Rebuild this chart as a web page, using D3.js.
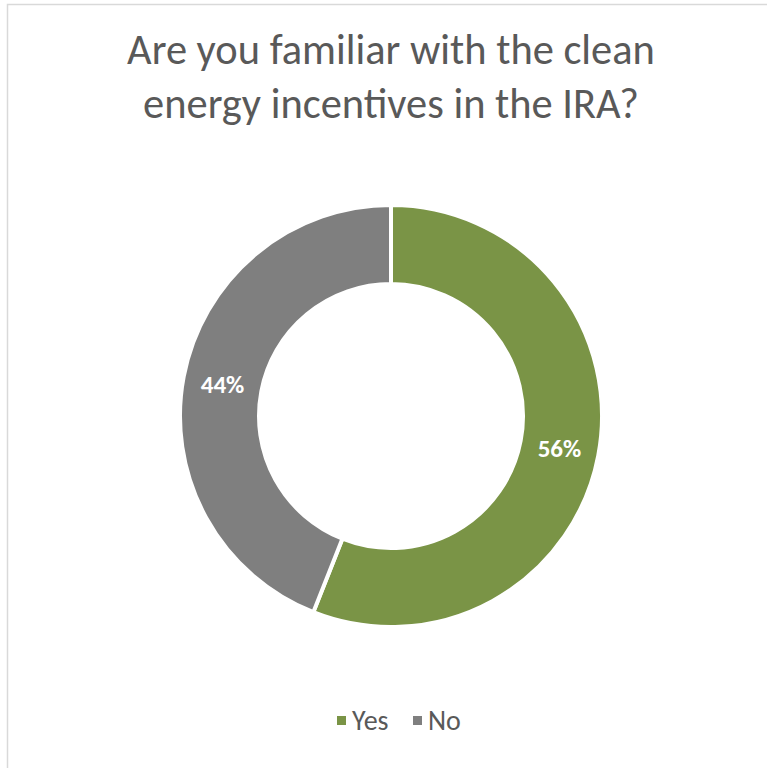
<!DOCTYPE html>
<html>
<head>
<meta charset="utf-8">
<script src="https://cdn.jsdelivr.net/npm/d3@7"></script>
<style>
  html, body { margin: 0; padding: 0; background: #fff; }
  svg { display: block; }
</style>
</head>
<body>
<script>
const titleLines = ["Are you familiar with the clean", "energy incentives in the IRA?"];
const categories = ["Yes", "No"];
const values = [56, 44];
const colors = ["#7a9446", "#7f7f7f"];

const W = 767, H = 768;
const svg = d3.select("body").append("svg").attr("width", W).attr("height", H);
const font = "Carlito, 'Open Sans', 'Noto Sans', sans-serif";

svg.append("rect").attr("x", 7.5).attr("y", 4.5).attr("width", W + 10).attr("height", H + 10)
  .attr("fill", "#fff").attr("stroke", "#d9d9d9").attr("stroke-width", 1.5);

// Title
const title = svg.append("text").attr("text-anchor", "middle")
  .attr("font-family", font).attr("fill", "#595959");
titleLines.forEach((t, i) => {
  title.append("tspan").attr("x", 391).attr("y", 64 + i * 54).text(t);
});
title.attr("font-size", 34);
const w0 = title.select("tspan").node().getComputedTextLength();
title.attr("font-size", 34 * 528 / w0);

// Donut
const cx = 391, cy = 416, R = 211, r = 132;
const pie = d3.pie().sort(null).value(d => d)(values);
const arc = d3.arc().innerRadius(r).outerRadius(R);
const g = svg.append("g").attr("transform", `translate(${cx},${cy})`);
g.selectAll("path").data(pie).join("path")
  .attr("d", arc)
  .attr("fill", (d, i) => colors[i])
  .attr("stroke", "#fff").attr("stroke-width", 4).attr("stroke-linejoin", "miter");

const labelArc = d3.arc().innerRadius((r + R) / 2).outerRadius((r + R) / 2);
g.selectAll("text").data(pie).join("text")
  .attr("transform", d => `translate(${labelArc.centroid(d)})`)
  .attr("text-anchor", "middle").attr("dy", "0.35em")
  .attr("font-family", font).attr("font-weight", "bold")
  .attr("font-size", 25).attr("fill", "#fff")
  .text((d, i) => values[i] + "%");

// Legend
const legendX = [337, 413];
const lg = svg.append("g");
categories.forEach((c, i) => {
  lg.append("rect").attr("x", legendX[i]).attr("y", 716).attr("width", 9).attr("height", 9).attr("fill", colors[i]);
  lg.append("text").attr("x", legendX[i] + 15).attr("y", 730)
    .attr("font-family", font).attr("font-size", 28).attr("fill", "#595959").text(c);
});
</script>
</body>
</html>
